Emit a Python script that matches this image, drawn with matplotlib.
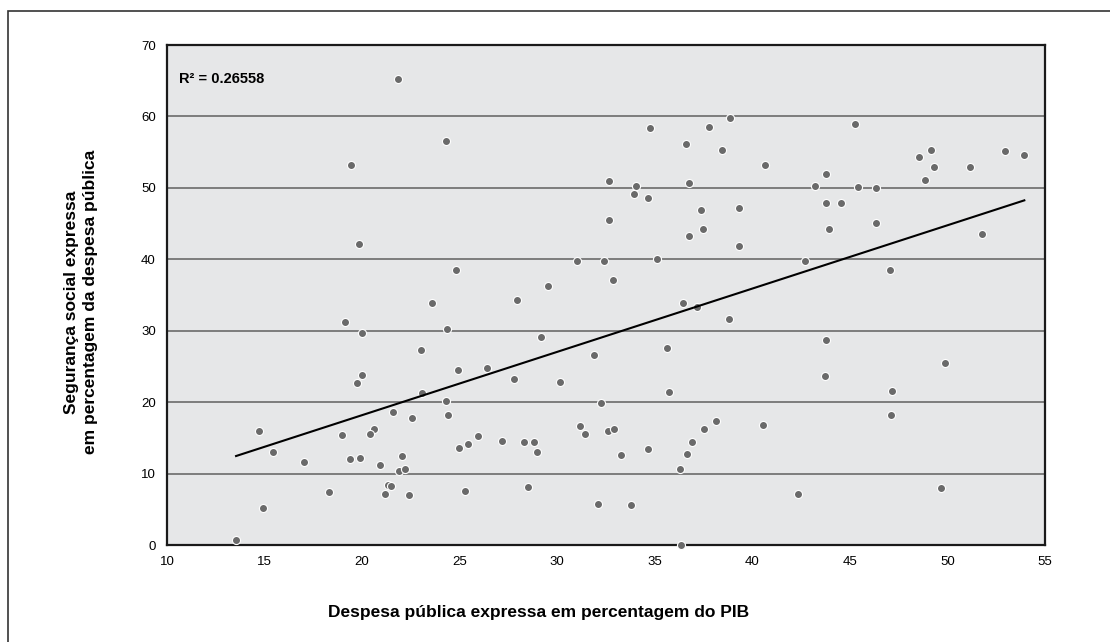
import numpy as np
import matplotlib
matplotlib.use("Agg")
from matplotlib import pyplot as plt
from matplotlib.patches import Rectangle

plt.rcParams['font.family'] = ['Liberation Sans', 'DejaVu Sans']

# despesa publica (% PIB) vs seguranca social (% despesa publica)
despesa = [21.82, 24.30, 19.45, 19.82, 23.57, 19.12, 19.98, 24.35, 23.02, 19.98,
           19.74, 23.07, 24.30, 21.60, 22.56, 24.38, 14.72, 18.95, 20.59, 20.40,
           15.43, 17.02, 19.38, 19.91, 22.05, 20.93, 21.87, 22.20, 21.34, 21.50,
           21.17, 22.42, 18.30, 14.92, 13.54,
           24.83, 29.54, 34.74, 37.78, 38.87, 36.59, 38.43, 32.63, 34.04, 33.95,
           34.67, 36.74, 37.35, 39.32, 37.47, 36.74, 32.63, 39.32, 31.00, 32.41,
           35.13, 32.84, 27.92, 29.17, 24.92, 26.39, 27.79, 30.13, 31.87, 32.26,
           35.64, 35.71, 36.45, 37.18, 38.79, 24.98, 25.43, 25.94, 27.19, 28.30,
           28.81, 28.95, 31.17, 31.44, 32.62, 32.91, 33.27, 34.67, 36.28, 36.65,
           36.89, 37.54, 38.12, 25.26, 28.52, 32.11, 33.78, 36.36,
           45.26, 40.64, 48.56, 49.16, 49.31, 48.87, 51.14, 52.97, 53.94, 43.80,
           43.21, 45.40, 46.36, 43.80, 44.53, 43.93, 46.36, 42.70, 47.04, 51.76,
           43.80, 43.73, 49.89, 47.18, 47.11, 40.56, 42.34, 49.65]
seguranca = [65.2, 56.56, 53.15, 42.14, 33.84, 31.27, 29.64, 30.24, 27.25, 23.80,
             22.63, 21.33, 20.16, 18.58, 17.83, 18.25, 15.96, 15.45, 16.24, 15.59,
             12.97, 11.57, 12.00, 12.23, 12.41, 11.15, 10.36, 10.59, 8.40, 8.30,
             7.19, 7.00, 7.42, 5.13, 0.75,
             38.46, 36.30, 58.33, 58.52, 59.73, 56.14, 55.34, 50.91, 50.31, 49.10,
             48.53, 50.73, 46.90, 47.14, 44.24, 43.26, 45.54, 41.86, 39.76, 39.76,
             40.08, 37.06, 34.26, 29.07, 24.45, 24.82, 23.19, 22.87, 26.65, 19.88,
             27.63, 21.47, 33.83, 33.26, 31.69, 13.63, 14.19, 15.21, 14.61, 14.38,
             14.38, 12.97, 16.61, 15.59, 16.00, 16.20, 12.55, 13.39, 10.59, 12.74,
             14.38, 16.19, 17.36, 7.61, 8.17, 5.79, 5.55, 0.0,
             58.94, 53.20, 54.32, 55.35, 52.92, 51.15, 52.96, 55.11, 54.55, 51.94,
             50.31, 50.17, 49.93, 47.93, 47.93, 44.24, 45.12, 39.76, 38.46, 43.54,
             28.66, 23.62, 25.48, 21.60, 18.20, 16.84, 7.19, 7.93]

# linha de tendencia
tend_inclinacao = 0.886
tend_intercepto = 0.46
r2_texto = "R² = 0.26558"

x_ticks = [10, 15, 20, 25, 30, 35, 40, 45, 50, 55]
y_ticks = [0, 10, 20, 30, 40, 50, 60, 70]

fig = plt.figure(figsize=(11.1, 6.42), dpi=100)
ax = fig.add_axes([167/1110, 1-545/642, 878/1110, 500/642])
ax.set_facecolor("#e6e7e8")

ax.scatter(despesa, seguranca, s=34, color="#6a6a6a", edgecolors="white",
           linewidths=0.8, zorder=3, clip_on=False)

xs = np.array([min(despesa), max(despesa)])
ax.plot(xs, tend_intercepto + tend_inclinacao*xs, color="black", lw=1.5, zorder=4)

ax.set_xlim(10, 55)
ax.set_ylim(0, 70)
ax.set_xticks(x_ticks)
ax.set_yticks(y_ticks)
ax.tick_params(length=0, labelsize=9.5, pad=8)
ax.grid(axis="y", color="#606060", lw=1.1, zorder=1)
ax.set_axisbelow(True)
for s in ax.spines.values():
    s.set_color("#1a1a1a")
    s.set_linewidth(1.6)

ax.text(0.014, 0.932, r2_texto, transform=ax.transAxes, fontsize=10.5,
        fontweight="bold", va="center", ha="left")

fig.text(539/1110, 1-612/642, "Despesa pública expressa em percentagem do PIB",
         fontsize=12.5, fontweight="bold", ha="center", va="center")
fig.text(81/1110, 1-302/642,
         "Segurança social expressa\nem percentagem da despesa pública",
         fontsize=12.5, fontweight="bold", ha="center", va="center",
         rotation=90, linespacing=1.4)

fig.patches.append(Rectangle((8/1110, -0.1), 1.2, 1-11/642+0.1,
                             transform=fig.transFigure, fill=False,
                             edgecolor="#333333", lw=1.2))

fig.savefig("out.png", dpi=100)
